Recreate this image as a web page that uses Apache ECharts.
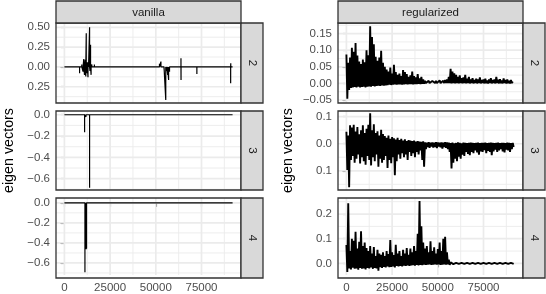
<!DOCTYPE html>
<html><head><meta charset="utf-8">
<script src="https://cdn.jsdelivr.net/npm/echarts@6/dist/echarts.min.js"></script>
<style>html,body{margin:0;padding:0;background:#fff}#c{width:546px;height:294px}</style>
</head><body><div id="c"></div>
<script>
// ---------- axis ticks ----------
const xTicks = [0, 25000, 50000, 75000];
const xTickLabels = ['0', '25000', '50000', '75000'];
const xMinor = [12500, 37500, 62500, 87500];

const v2Ticks = [-0.25, 0, 0.25, 0.5];
const v2Labels = ['0.25', '0.00', '0.25', '0.50'];
const v2Minor = [-0.375, -0.125, 0.125, 0.375];
const v3Ticks = [-0.6, -0.4, -0.2, 0];
const v3Labels = ['\u22120.6', '\u22120.4', '\u22120.2', '0.0'];
const v3Minor = [-0.7, -0.5, -0.3, -0.1];
const v4Ticks = [-0.6, -0.4, -0.2, 0];
const v4Labels = ['\u22120.6', '\u22120.4', '\u22120.2', '0.0'];
const v4Minor = [-0.7, -0.5, -0.3, -0.1];
const r2Ticks = [-0.05, 0, 0.05, 0.1, 0.15];
const r2Labels = ['\u22120.05', '0.00', '0.05', '0.10', '0.15'];
const r2Minor = [-0.025, 0.025, 0.075, 0.125, 0.175];
const r3Ticks = [-0.1, 0, 0.1];
const r3Labels = ['0.1', '0.0', '0.1'];
const r3Minor = [-0.15, -0.05, 0.05];
const r4Ticks = [0, 0.1, 0.2];
const r4Labels = ['0.0', '0.1', '0.2'];
const r4Minor = [0.05, 0.15, 0.25];

// ---------- vanilla: spikes on a zero line ----------
const vanEnd = 92000;
const van2X = [1500, 3000, 4500, 6000, 8300, 9500, 10200, 10600, 11000, 11400, 11700, 11950, 12200, 12600, 12900, 13200, 13770, 14000, 14300, 14600, 15000, 16400, 17500, 52000, 52800, 53500, 54500, 55440, 56000, 56500, 57000, 57500, 63760, 63800, 72460, 90940, 91000];
const van2Y = [-0.02, -0.025, -0.02, -0.015, -0.08, 0.03, -0.06, 0.1, -0.1, 0.09, -0.12, 0.425, -0.08, 0.06, -0.13, 0.05, 0.5, -0.05, 0.28, -0.1, 0.03, 0.03, -0.02, 0.04, 0.067, 0.02, -0.03, -0.417, -0.05, -0.1, -0.164, -0.06, 0.11, -0.164, -0.088, -0.206, 0.046];
const van3X = [11050, 11800, 13770];
const van3Y = [-0.165, -0.02, -0.685];
const van4X = [11230, 11700, 11900, 12100, 13770];
const van4Y = [-0.693, -0.46, -0.463, -0.455, 0.012];

// ---------- regularized: per-1000 bin envelope (top, bottom) ----------
const reg2Hi = [0.087,0.062,0.078,0.107,0.095,0.122,0.084,0.066,0.058,0.072,0.064,0.1,0.085,0.172,0.14,0.118,0.08,0.068,0.078,0.098,0.062,0.05,0.042,0.036,0.048,0.03,0.056,0.034,0.026,0.03,0.022,0.04,0.034,0.028,0.02,0.024,0.036,0.022,0.018,0.028,0.015,0.02,0.012,0.008,0.006,0.008,0.006,0.007,0.006,0.008,0.006,0.009,0.007,0.008,0.01,0.012,0.02,0.044,0.036,0.03,0.026,0.02,0.024,0.016,0.018,0.026,0.014,0.02,0.012,0.016,0.01,0.014,0.012,0.018,0.01,0.012,0.014,0.009,0.012,0.016,0.01,0.012,0.02,0.011,0.013,0.009,0.015,0.01,0.012,0.008,0.01,0.006];
const reg2Lo = [-0.046,-0.02,-0.014,-0.012,-0.011,-0.012,-0.01,-0.012,-0.011,-0.01,-0.012,-0.01,-0.009,-0.01,-0.008,-0.009,-0.008,-0.007,-0.008,-0.006,-0.007,-0.006,-0.005,-0.004,-0.005,-0.004,-0.003,-0.004,-0.003,-0.003,-0.004,-0.003,-0.002,-0.003,-0.002,-0.002,-0.003,-0.002,-0.002,-0.001,-0.002,-0.001,-0.001,0.001,0.001,0.001,0.001,0.001,0.001,0.001,0.001,0.001,0.001,0.001,0.001,0.001,0.001,0,0.001,0,0.001,0,0.001,0,0.001,0,0.001,0,0.001,0,0.001,0,0.001,0,0.001,0,0.001,0,0.001,0,0.001,0,0.001,0,0.001,0,0.001,0,0.001,0,0.001,0];
const reg3Hi = [0.044,0.03,0.068,0.06,0.07,0.045,0.062,0.035,0.05,0.068,0.04,0.055,0.07,0.113,0.05,0.072,0.04,0.046,0.03,0.052,0.036,0.028,0.022,0.03,0.018,0.025,0.02,0.016,0.022,0.014,0.018,0.012,0.016,0.01,0.014,0.012,0.01,0.012,0.008,0.01,0.008,0.007,0.009,0.005,0.004,0.006,0.004,0.005,0.004,0.006,0.005,0.004,0.005,0.004,0.006,0.005,0.004,0.003,0.004,0.002,0.003,0.005,0.003,0.002,0.004,0.003,0.002,0.003,0.004,0.003,0.002,0.003,0.004,0.002,0.003,0.003,0.004,0.002,0.003,0.004,0.003,0.002,0.003,0.004,0.002,0.003,0.003,0.002,0.004,0.003,0.002,0.003];
const reg3Lo = [-0.097,-0.161,-0.06,-0.045,-0.07,-0.055,-0.04,-0.073,-0.05,-0.065,-0.078,-0.045,-0.06,-0.08,-0.05,-0.065,-0.04,-0.085,-0.055,-0.07,-0.06,-0.045,-0.09,-0.06,-0.072,-0.05,-0.116,-0.065,-0.04,-0.055,-0.035,-0.05,-0.04,-0.06,-0.03,-0.045,-0.035,-0.05,-0.03,-0.04,-0.025,-0.06,-0.085,-0.02,-0.012,-0.015,-0.01,-0.014,-0.012,-0.016,-0.01,-0.013,-0.018,-0.012,-0.015,-0.02,-0.03,-0.091,-0.07,-0.055,-0.065,-0.048,-0.055,-0.04,-0.045,-0.03,-0.038,-0.042,-0.03,-0.035,-0.025,-0.032,-0.04,-0.028,-0.03,-0.024,-0.035,-0.026,-0.03,-0.042,-0.028,-0.022,-0.03,-0.025,-0.02,-0.028,-0.032,-0.022,-0.025,-0.03,-0.02,-0.012];
const reg4Hi = [0.075,0.244,0.05,0.1,0.092,0.128,0.06,0.088,0.13,0.07,0.085,0.062,0.05,0.07,0.04,0.066,0.03,0.055,0.04,0.035,0.045,0.03,0.05,0.038,0.095,0.045,0.034,0.075,0.04,0.05,0.03,0.055,0.04,0.062,0.035,0.06,0.045,0.07,0.05,0.12,0.253,0.15,0.085,0.06,0.07,0.045,0.09,0.05,0.065,0.04,0.058,0.085,0.05,0.1,0.108,0.045,0.015,0.004,0.002,0.002,0.002,0.002,0.002,0.002,0.002,0.002,0.002,0.002,0.002,0.002,0.002,0.002,0.002,0.002,0.002,0.002,0.002,0.002,0.002,0.002,0.002,0.002,0.002,0.002,0.002,0.002,0.002,0.002,0.002,0.002,0.002,0.002];
const reg4Lo = [-0.035,-0.02,-0.025,-0.018,-0.022,-0.02,-0.026,-0.018,-0.022,-0.02,-0.025,-0.018,-0.02,-0.016,-0.022,-0.018,-0.02,-0.03,-0.015,-0.018,-0.014,-0.016,-0.012,-0.015,-0.014,-0.012,-0.016,-0.01,-0.012,-0.01,-0.012,-0.009,-0.01,-0.008,-0.01,-0.008,-0.007,-0.009,-0.006,-0.008,-0.006,-0.007,-0.005,-0.006,-0.005,-0.004,-0.006,-0.005,-0.004,-0.005,-0.004,-0.006,-0.005,-0.004,-0.005,-0.004,-0.006,-0.004,-0.003,-0.002,-0.002,-0.002,-0.002,-0.002,-0.002,-0.002,-0.002,-0.002,-0.002,-0.002,-0.002,-0.002,-0.002,-0.002,-0.002,-0.002,-0.002,-0.002,-0.002,-0.002,-0.002,-0.002,-0.002,-0.002,-0.002,-0.002,-0.002,-0.002,-0.002,-0.002,-0.002,-0.002];
const binWidth = 1000;

// ---------- builders ----------
function spikeData(xs, ys) {
  const d = [[0, 0]];
  xs.forEach((x, i) => { d.push([x, 0], [x, ys[i]], [x, 0]); });
  d.push([vanEnd, 0]);
  return d;
}
function envData(hi, lo) {
  const d = [];
  hi.forEach((h, i) => { d.push([i * binWidth, h], [i * binWidth + binWidth / 2, lo[i]]); });
  return d;
}

const FONT = '"Liberation Sans", Arial, Helvetica, sans-serif';
const colL = 56, colR = 338, panelW = 185, stripW = 22;
const tops = [23, 111, 198], heights = [80, 79, 80];

const panels = [
  { col: colL, row: 0, ymin: -0.455, ymax: 0.554, ticks: v2Ticks, labels: v2Labels, minor: v2Minor, data: spikeData(van2X, van2Y), lw: 1.2, strip: '2' },
  { col: colL, row: 1, ymin: -0.706, ymax: 0.035, ticks: v3Ticks, labels: v3Labels, minor: v3Minor, data: spikeData(van3X, van3Y), lw: 1.2, strip: '3' },
  { col: colL, row: 2, ymin: -0.72, ymax: 0.048, ticks: v4Ticks, labels: v4Labels, minor: v4Minor, data: spikeData(van4X, van4Y), lw: 1.2, strip: '4' },
  { col: colR, row: 0, ymin: -0.059, ymax: 0.182, ticks: r2Ticks, labels: r2Labels, minor: r2Minor, data: envData(reg2Hi, reg2Lo), lw: 1.9, strip: '2' },
  { col: colR, row: 1, ymin: -0.171, ymax: 0.121, ticks: r3Ticks, labels: r3Labels, minor: r3Minor, data: envData(reg3Hi, reg3Lo), lw: 1.9, strip: '3' },
  { col: colR, row: 2, ymin: -0.047, ymax: 0.265, ticks: r4Ticks, labels: r4Labels, minor: r4Minor, data: envData(reg4Hi, reg4Lo), lw: 1.9, strip: '4' }
];

const grids = [], xAxes = [], yAxes = [], series = [], graphics = [];
panels.forEach((p, i) => {
  const top = tops[p.row], h = heights[p.row];
  const bottom = p.row === 2;
  grids.push({ left: p.col, top: top, width: panelW, height: h, containLabel: false });
  xAxes.push({
    type: 'value', gridIndex: i, min: -4600, max: 96600,
    axisLine: { show: false }, splitLine: { show: false },
    axisTick: { show: bottom, customValues: xTicks, length: 4, lineStyle: { color: '#333', width: 1.1 } },
    axisLabel: { show: bottom, customValues: xTicks, margin: 7, color: '#4d4d4d', fontSize: 11.5, fontFamily: FONT,
      formatter: v => { const k = xTicks.indexOf(v); return k >= 0 ? xTickLabels[k] : ''; } }
  });
  yAxes.push({
    type: 'value', gridIndex: i, min: p.ymin, max: p.ymax,
    axisLine: { show: false }, splitLine: { show: false },
    axisTick: { show: true, customValues: p.ticks, length: 4, lineStyle: { color: '#333', width: 1.1 } },
    axisLabel: { show: true, customValues: p.ticks, margin: 6, color: '#4d4d4d', fontSize: 11.5, fontFamily: FONT,
      formatter: v => { const k = p.ticks.findIndex(t => Math.abs(t - v) < 1e-9); return k >= 0 ? p.labels[k] : ''; } }
  });
  // background grid lines (custom series through the axes)
  const gd = [];
  xMinor.forEach(v => gd.push([0, v, 0]));
  p.minor.forEach(v => gd.push([1, v, 0]));
  xTicks.forEach(v => gd.push([0, v, 1]));
  p.ticks.forEach(v => gd.push([1, v, 1]));
  series.push({
    type: 'custom', xAxisIndex: i, yAxisIndex: i, silent: true, clip: true, z: 1, data: gd,
    renderItem: (params, api) => {
      const cs = params.coordSys;
      const dim = api.value(0), v = api.value(1), major = api.value(2) === 1;
      const style = { stroke: '#ebebeb', lineWidth: major ? 1.7 : 0.9 };
      if (dim === 0) {
        const px = api.coord([v, 0])[0];
        return { type: 'line', shape: { x1: px, y1: cs.y, x2: px, y2: cs.y + cs.height }, style };
      }
      const py = api.coord([0, v])[1];
      return { type: 'line', shape: { x1: cs.x, y1: py, x2: cs.x + cs.width, y2: py }, style };
    }
  });
  series.push({
    type: 'line', xAxisIndex: i, yAxisIndex: i, data: p.data, symbol: 'none', showSymbol: false,
    silent: true, clip: true, z: 3, lineStyle: { color: '#000', width: p.lw, join: 'bevel' }
  });
  // panel border
  graphics.push({ type: 'rect', silent: true, z: 100, shape: { x: p.col, y: top, width: panelW, height: h },
    style: { fill: null, stroke: '#333', lineWidth: 1.3 } });
  // right strip
  graphics.push({ type: 'rect', silent: true, z: 100, shape: { x: p.col + panelW, y: top, width: stripW, height: h },
    style: { fill: '#d9d9d9', stroke: '#333', lineWidth: 1.3 } });
  graphics.push({ type: 'text', silent: true, z: 101, x: p.col + panelW + stripW / 2, y: top + h / 2, rotation: -Math.PI / 2,
    style: { text: p.strip, fill: '#1a1a1a', fontSize: 11.5, fontFamily: FONT, align: 'center', verticalAlign: 'middle' } });
});
// top strips
[[colL, 'vanilla'], [colR, 'regularized']].forEach(([x, t]) => {
  graphics.push({ type: 'rect', silent: true, z: 100, shape: { x: x, y: 1, width: panelW, height: 22 },
    style: { fill: '#d9d9d9', stroke: '#333', lineWidth: 1.3 } });
  graphics.push({ type: 'text', silent: true, z: 101, x: x + panelW / 2, y: 12.5,
    style: { text: t, fill: '#1a1a1a', fontSize: 11.5, fontFamily: FONT, align: 'center', verticalAlign: 'middle' } });
});
// y axis titles
[9, 288].forEach(x => {
  graphics.push({ type: 'text', silent: true, z: 101, x: x, y: 150.5, rotation: Math.PI / 2,
    style: { text: 'eigen vectors', fill: '#000', fontSize: 14.3, fontFamily: FONT, align: 'center', verticalAlign: 'middle' } });
});

const chart = echarts.init(document.getElementById('c'), null, { renderer: 'canvas' });
chart.setOption({
  animation: false,
  backgroundColor: '#ffffff',
  grid: grids, xAxis: xAxes, yAxis: yAxes, series: series, graphic: graphics
});
</script>
</body></html>
